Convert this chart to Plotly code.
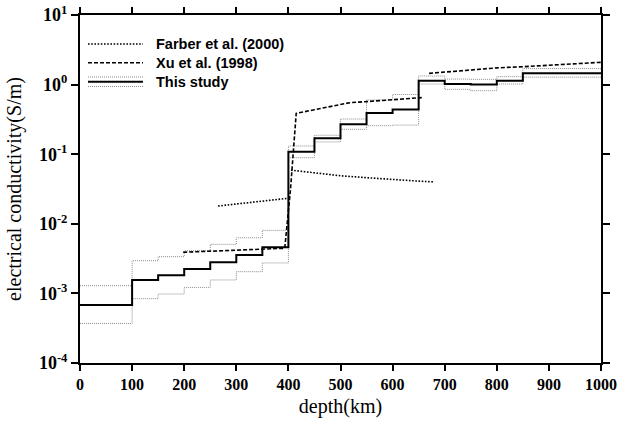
import plotly.graph_objects as go

# Layer edges (km) and conductivities (S/m) of "This study"
layer_edges = [0, 100, 150, 200, 250, 300, 350, 400, 450, 500, 550, 600, 650, 700, 750, 800, 850, 1000]
study_mid = [6.8e-4, 1.56e-3, 1.82e-3, 2.24e-3, 2.8e-3, 3.56e-3, 4.6e-3, 0.108, 0.17, 0.27, 0.39, 0.44,
             1.14, 1.02, 1.0, 1.14, 1.46]
study_upper = [1.29e-3, 2.95e-3, 3.37e-3, 4.1e-3, 5.07e-3, 6.3e-3, 8.05e-3, 0.131, 0.187, 0.32, 0.6, 0.72,
               1.33, 1.2, 1.19, 1.3, 1.7]
study_lower = [3.7e-4, 8.4e-4, 9.8e-4, 1.22e-3, 1.56e-3, 2.05e-3, 2.74e-3, 0.089, 0.15, 0.228, 0.257, 0.262,
               1.02, 0.855, 0.817, 1.02, 1.28]

# Xu et al. (1998)
xu_depth = [198, 250, 300, 350, 393, 404, 415, 450, 500, 518, 550, 595, 614, 656,
            None, 670, 750, 800, 851, 900, 950, 1000]
xu_sigma = [3.9e-3, 4.05e-3, 4.2e-3, 4.3e-3, 4.45e-3, 0.031, 0.386, 0.436, 0.52, 0.55, 0.57, 0.60, 0.62, 0.65,
            None, 1.45, 1.63, 1.74, 1.81, 1.9, 2.0, 2.09]

# Farber et al. (2000)
farber_depth = [265, 300, 350, 398, None, 405, 450, 500, 550, 600, 650, 680]
farber_sigma = [0.018, 0.0193, 0.0212, 0.0232, None, 0.059, 0.054, 0.049, 0.046, 0.043, 0.041, 0.040]

x_ticks = [0, 100, 200, 300, 400, 500, 600, 700, 800, 900, 1000]
y_tickvals = [1e-4, 1e-3, 1e-2, 1e-1, 1e0, 1e1]
y_ticktext = ["10<sup>-4</sup>", "10<sup>-3</sup>", "10<sup>-2</sup>", "10<sup>-1</sup>",
              "10<sup>0</sup>", "10<sup>1</sup>"]

legend_labels = ["Farber et al. (2000)", "Xu et al. (1998)", "This study"]

GRAY = "#8c8c8c"


def steps(vals):
    return vals + [vals[-1]]


fig = go.Figure()
for vals in (study_upper, study_lower):
    fig.add_trace(go.Scatter(x=layer_edges, y=steps(vals), mode="lines", line_shape="hv",
                             line=dict(color=GRAY, width=1, dash="1px,1px"), showlegend=False))
fig.add_trace(go.Scatter(x=layer_edges, y=steps(study_mid), mode="lines", line_shape="hv",
                         line=dict(color="black", width=2), showlegend=False))
fig.add_trace(go.Scatter(x=xu_depth, y=xu_sigma, mode="lines", connectgaps=False,
                         line=dict(color="black", width=1.6, dash="4px,2px"), showlegend=False))
fig.add_trace(go.Scatter(x=farber_depth, y=farber_sigma, mode="lines", connectgaps=False,
                         line=dict(color="black", width=1.6, dash="1.6px,1.6px"), showlegend=False))

# custom legend (paper coordinates)
W, H, L, T = 521.0, 348.0, 80.0, 15.0


def px(xp):
    return (xp - L) / W


def py(yp):
    return (T + H - yp) / H


x0, x1 = px(88), px(143)
shapes = [
    dict(type="line", xref="paper", yref="paper", x0=x0, x1=x1, y0=py(44), y1=py(44),
         line=dict(color="black", width=1.4, dash="1.6px,1.6px")),
    dict(type="line", xref="paper", yref="paper", x0=x0, x1=x1, y0=py(62.7), y1=py(62.7),
         line=dict(color="black", width=1.4, dash="4px,2px")),
    dict(type="line", xref="paper", yref="paper", x0=x0, x1=x1, y0=py(77), y1=py(77),
         line=dict(color=GRAY, width=1, dash="1px,1px")),
    dict(type="line", xref="paper", yref="paper", x0=x0, x1=x1, y0=py(81.7), y1=py(81.7),
         line=dict(color="black", width=2)),
    dict(type="line", xref="paper", yref="paper", x0=x0, x1=x1, y0=py(86.5), y1=py(86.5),
         line=dict(color=GRAY, width=1, dash="1px,1px")),
]
annotations = []
for lab, yy in zip(legend_labels, [44, 63, 82]):
    annotations.append(dict(text=lab, xref="paper", yref="paper", x=px(154), y=py(yy),
                            xanchor="left", yanchor="middle", showarrow=False,
                            font=dict(family="Liberation Sans", size=14.5, color="black", weight="bold")))

fig.update_layout(
    width=619, height=421,
    margin=dict(l=80, r=18, t=15, b=58),
    paper_bgcolor="white", plot_bgcolor="white",
    shapes=shapes, annotations=annotations,
    showlegend=False,
    font=dict(family="Liberation Serif", color="black"),
)
fig.update_xaxes(range=[0, 1000], tickvals=x_ticks, ticks="outside", ticklen=6, tickwidth=2,
                 tickcolor="black", showline=True, linecolor="black", linewidth=2, mirror="allticks",
                 showgrid=False, zeroline=False, automargin=False,
                 tickfont=dict(family="Liberation Serif", size=16, weight="bold"),
                 title=dict(text="depth(km)", font=dict(family="Liberation Serif", size=20), standoff=7))
fig.update_yaxes(type="log", range=[-4, 1], tickvals=y_tickvals, ticktext=y_ticktext,
                 ticks="outside", ticklen=7, tickwidth=2, tickcolor="black",
                 showline=True, linecolor="black", linewidth=2, mirror="allticks",
                 showgrid=False, zeroline=False, automargin=False,
                 tickfont=dict(family="Liberation Serif", size=18, weight="bold"),
                 title=dict(text="electrical conductivity(S/m)",
                            font=dict(family="Liberation Serif", size=20), standoff=12))

fig.write_html("out.html", config={"displayModeBar": False},
               post_script="document.body.style.margin='0';document.body.style.overflow='hidden';"
                           "window.dispatchEvent(new Event('resize'));")
